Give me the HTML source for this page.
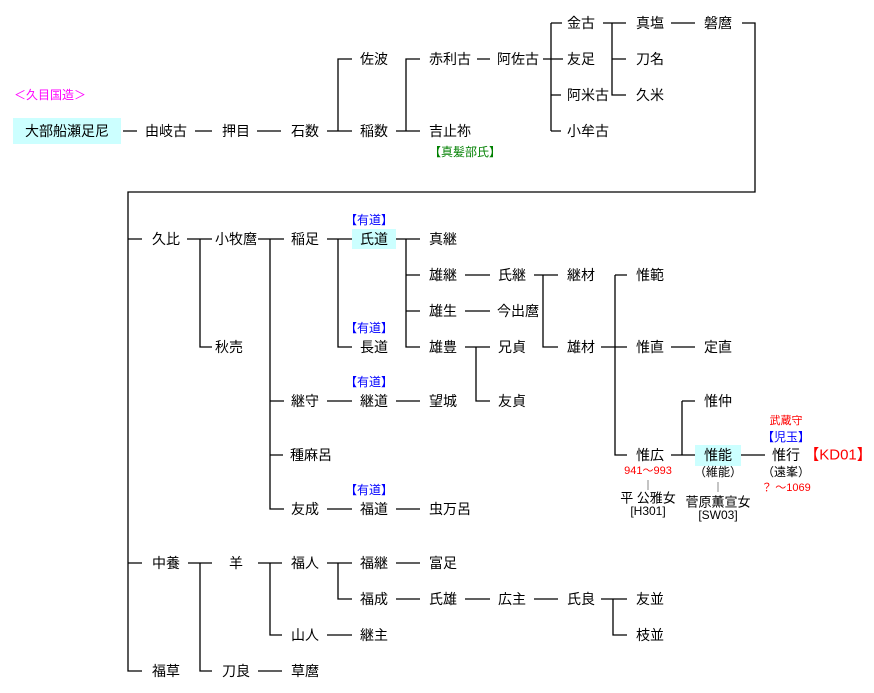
<!DOCTYPE html>
<html><head><meta charset="utf-8"><style>
html,body{margin:0;padding:0;background:#fff;}
svg{display:block;font-family:"Liberation Sans","Noto Sans CJK JP",sans-serif;}
</style></head><body>
<svg width="874" height="693" viewBox="0 0 874 693" xmlns="http://www.w3.org/2000/svg">
<rect x="13" y="118" width="108" height="26" fill="#ccffff"/>
<rect x="352" y="229" width="44" height="20" fill="#ccffff"/>
<rect x="695" y="445" width="46" height="21" fill="#ccffff"/>
<g stroke="#000" stroke-width="1.3" fill="none">
<path d="M123 131H137M195 131H212M257 131H281M327 131H352M338 131V59H352M396 131H420M406 131V59H420M477 59H490M543 59H563M551 23V131M551 23H562M551 95H561M551 131H561M603 23H626M612 23V95H626M612 59H626M671 23H695M742 23H755V192H128V671H142M128 239H142M128 563H142"/>
<path d="M187 239H212M200 239V347H212M258 239H284M270 239V509H284M270 401H284M270 455H283M327 239H352M338 239V347H352M396 239H420M406 239V347H420M406 275H420M406 311H420M465 275H490M465 311H490M465 347H490M476 347V401H490M534 275H558M543 275V347H558M601 347H627M615 275V455H627M615 275H627M671 347H695M671 455H695M682 401V455M682 401H695M741 455H765M327 401H352M396 401H420M327 509H352M396 509H420"/>
<path d="M188 563H212M200 563V671H212M258 563H282M270 563V635H282M327 563H352M338 563V599H352M396 563H420M396 599H420M465 599H490M534 599H558M601 599H627M613 599V635H627M327 635H352M258 671H282"/>
</g>
<g stroke="#888" stroke-width="1"><path d="M648 480V490M718 482V492"/></g>
<g font-size="14" fill="#000" text-anchor="middle" dominant-baseline="central">
<text x="67" y="131">大部船瀬足尼</text><text x="166" y="131">由岐古</text><text x="236" y="131">押目</text><text x="305" y="131">石数</text>
<text x="374" y="59">佐波</text><text x="374" y="131">稲数</text><text x="450" y="59">赤利古</text><text x="450" y="131">吉止祢</text>
<text x="518" y="59">阿佐古</text><text x="581" y="23">金古</text><text x="581" y="59">友足</text><text x="588" y="95">阿米古</text><text x="588" y="131">小牟古</text>
<text x="650" y="23">真塩</text><text x="650" y="59">刀名</text><text x="650" y="95">久米</text><text x="718" y="23">磐麿</text>
<text x="166" y="239">久比</text><text x="236" y="239">小牧麿</text><text x="229" y="347">秋売</text><text x="305" y="239">稲足</text>
<text x="374" y="239">氏道</text><text x="374" y="347">長道</text><text x="443" y="239">真継</text><text x="443" y="275">雄継</text><text x="443" y="311">雄生</text><text x="443" y="347">雄豊</text>
<text x="512" y="275">氏継</text><text x="518" y="311">今出麿</text><text x="512" y="347">兄貞</text><text x="512" y="401">友貞</text>
<text x="581" y="275">継材</text><text x="581" y="347">雄材</text><text x="650" y="275">惟範</text><text x="650" y="347">惟直</text><text x="718" y="347">定直</text>
<text x="718" y="401">惟仲</text><text x="650" y="455">惟広</text><text x="718" y="455">惟能</text><text x="786" y="455">惟行</text>
<text x="305" y="401">継守</text><text x="374" y="401">継道</text><text x="443" y="401">望城</text><text x="311" y="455">種麻呂</text>
<text x="305" y="509">友成</text><text x="374" y="509">福道</text><text x="450" y="509">虫万呂</text>
<text x="166" y="563">中養</text><text x="236" y="563">羊</text><text x="305" y="563">福人</text><text x="374" y="563">福継</text><text x="443" y="563">富足</text>
<text x="374" y="599">福成</text><text x="443" y="599">氏雄</text><text x="512" y="599">広主</text><text x="581" y="599">氏良</text><text x="650" y="599">友並</text><text x="650" y="635">枝並</text>
<text x="305" y="635">山人</text><text x="374" y="635">継主</text><text x="166" y="671">福草</text><text x="236" y="671">刀良</text><text x="305" y="671">草麿</text>
</g>
<g font-size="13" fill="#000" text-anchor="middle" dominant-baseline="central">
<text x="648" y="498">平  公雅女</text><text x="718" y="502">菅原薫宣女</text>
</g>
<g font-size="12" text-anchor="middle" dominant-baseline="central">
<text x="718" y="472">（維能）</text><text x="786" y="472">（遠峯）</text>
<text x="648" y="511">[H301]</text><text x="718" y="515">[SW03]</text>
<text x="50" y="95" fill="#ff00ff">＜久目国造＞</text>
<text x="465" y="152" fill="#008000">【真髪部氏】</text>
<g fill="#0000ff"><text x="369" y="220">【有道】</text><text x="369" y="328">【有道】</text><text x="369" y="382">【有道】</text><text x="369" y="490">【有道】</text><text x="786" y="437">【児玉】</text></g>
<g fill="#ff0000" font-size="11"><text x="648" y="471">941～993</text><text x="786" y="421">武蔵守</text><text x="786" y="488">？ ～1069</text></g>
<text x="838" y="455" fill="#ff0000" font-size="15">【KD01】</text>
</g>
</svg>
</body></html>
